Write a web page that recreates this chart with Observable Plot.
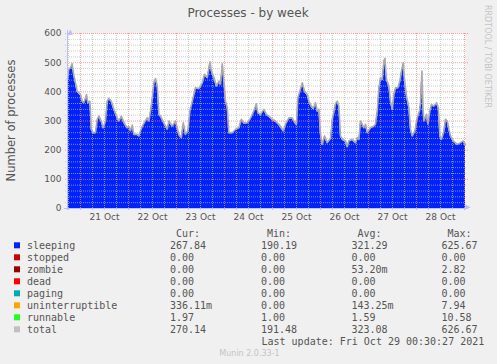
<!DOCTYPE html>
<html><head><meta charset="utf-8">
<script src="https://cdn.jsdelivr.net/npm/d3@7"></script>
<script src="https://cdn.jsdelivr.net/npm/@observablehq/plot@0.6"></script>
<style>
html,body{margin:0;padding:0;background:#f0f0f0;}
#wrap{position:relative;width:497px;height:364px;background:#f0f0f0;overflow:hidden;}
#wrap > svg{position:absolute;left:0;top:0;}
</style></head><body><div id="wrap"></div>
<script>
// hours after 21 Oct 2021 00:00
const hours = [-6.5,-5.9,-5,-4.2,-3.4,-2.5,-1.7,0,0.9,1.7,2.5,3,3.7,4.7,5.4,6.4,7.5,8.4,9.2,10.4,11.4,12.5,13.4,14.2,15.4,16.7,18.4,19.2,20.4,21.4,22.5,23.4,24.2,25,25.9,26.7,28.4,29.2,30,31.4,33.4,34.2,35,35.9,36.7,37.5,38.4,39.2,40,41.7,43.4,44.2,45.9,47.5,49.2,50.4,51.4,52.5,53.7,54.7,55.9,57.5,59.2,60.9,62,63.4,64.7,65.5,66.7,68,69.2,70,70.9,71.7,72.5,73.4,74.2,75.9,77.5,79.2,80.4,81.7,83.4,84.7,85.9,87,87.9,88.7,90,91.7,93,94.2,95.9,97.5,99.2,100.4,101.4,102.5,104.2,105.9,106.7,108,108.7,109.7,110.9,112,113.4,114.2,115.4,116.4,117.5,118.4,119.2,120,120.9,122,123.4,125,125.9,126.7,127.5,128.4,129.2,130,131,132.5,133.4,134.2,135.9,137.5,138.4,139.2,140,140.9,141.7,142.5,143.4,145,146.7,147.5,148.4,149.2,150,150.9,151.7,152.2,153,154.2,155,155.9,156.7,157.5,158.7,159.7,160.5,161.4,162,163,164.2,165,165.9,167.2,168.4,169.5,170,170.7,171.3,171.7,173,173.7,174.7,175.5,176.7,178,178.9,179.7,180.5,181.7,182.5,183.4,184.2,185,186.4,188.4,190,191.4,192.5];
const total = [443,477,483,496,460,431,403,391,368,363,380,391,362,368,272,260,260,306,317,300,277,300,368,378,368,340,311,300,317,300,286,277,281,267,286,254,254,249,267,289,311,300,334,379,431,446,420,323,317,294,272,300,283,300,254,243,294,254,266,334,368,414,411,431,460,449,503,471,449,420,437,426,496,437,368,346,260,260,272,277,306,294,294,306,323,340,359,329,323,340,323,317,306,300,289,277,266,289,311,311,300,289,380,403,431,403,391,368,351,343,363,334,340,255,220,249,226,240,306,330,360,368,351,249,237,232,212,232,237,226,243,237,300,289,277,289,260,277,283,289,334,414,449,443,506,515,443,420,368,340,391,414,414,437,471,500,443,386,346,272,249,266,311,334,360,471,340,300,323,289,334,357,351,363,346,249,237,266,306,300,272,249,232,220,226,232,218];
const sleeping = [439,473,479,492,456,427,399,387,364,359,376,387,358,364,268,256,256,302,313,296,273,296,364,374,364,336,307,296,313,296,282,273,277,263,282,250,250,245,263,285,307,296,330,375,427,442,416,319,313,290,268,296,279,296,250,239,290,250,262,330,364,410,407,427,456,445,499,467,445,416,433,422,492,433,364,342,256,256,268,273,302,290,290,302,319,336,355,325,319,336,319,313,302,296,285,273,262,285,307,307,296,285,376,399,427,399,387,364,347,339,359,330,336,251,216,245,222,236,302,326,356,364,347,245,233,228,208,228,233,222,239,233,296,285,273,285,256,273,279,285,330,410,445,439,502,511,439,416,364,336,387,410,410,433,467,496,439,382,342,268,245,262,307,330,356,467,336,296,319,285,330,353,347,359,342,245,233,262,302,296,268,245,228,216,222,228,214];

const seriesNames = ["sleeping","stopped","zombie","dead","paging","uninterruptible","runnable","total"];
const seriesColors = ["#0022ff","#cc0000","#990000","#ff0000","#00aaaa","#ffa500","#22ff22","#c0c0c0"];
const curVals = ["267.84","0.00","0.00","0.00","0.00","336.11m","1.97","270.14"];
const minVals = ["190.19","0.00","0.00","0.00","0.00","0.00","1.00","191.48"];
const avgVals = ["321.29","0.00","53.20m","0.00","0.00","143.25m","1.59","323.08"];
const maxVals = ["625.67","0.00","2.82","0.00","0.00","7.94","10.58","626.67"];
const columnHeads = ["Cur:","Min:","Avg:","Max:"];
const yTicks = [0,100,200,300,400,500,600];
const titleText = "Processes - by week";
const yLabel = "Number of processes";
const lastUpdate = "Last update: Fri Oct 29 00:30:27 2021";
const sideText = "RRDTOOL / TOBI OETIKER";
const footer = "Munin 2.0.33-1";

const H = 3600e3;
const t0 = Date.UTC(2021, 9, 21, 0, 0);
const data = hours.map((h, i) => ({t: new Date(t0 + h * H), total: total[i], sleeping: sleeping[i]}));
const xDomain = [new Date(t0 - 6.5 * H), new Date(t0 + 192.5 * H)];
const minorX = d3.range(-6, 193, 6).filter(h => h % 24 !== 0).map(h => new Date(t0 + h * H));
const majorX = d3.range(0, 193, 24).map(h => new Date(t0 + h * H));
const noonTicks = d3.range(12, 190, 24).map(h => new Date(t0 + h * H));
const minorY = d3.range(20, 601, 20).filter(v => v % 100 !== 0);
const majorY = d3.range(100, 601, 100);

const axisColor = "#b8c0f8";
const chart = Plot.plot({
  width: 497, height: 232,
  marginLeft: 67, marginRight: 32, marginTop: 33, marginBottom: 24,
  style: {background: "transparent", fontFamily: "DejaVu Sans", fontSize: "9px", color: "#555"},
  x: {type: "utc", domain: xDomain},
  y: {domain: [0, 600]},
  marks: [
    Plot.frame({fill: "white", stroke: "none"}),
    Plot.areaY(data, {x: "t", y: "sleeping", fill: "#0022ff"}),
    Plot.line(data, {x: "t", y: "total", stroke: "#a8aaaa", strokeWidth: 1.6}),
    Plot.ruleY(minorY, {stroke: "#bababa", strokeOpacity: 0.7, strokeDasharray: "1,1", insetLeft: -2, insetRight: -2}),
    Plot.ruleX(minorX, {stroke: "#bababa", strokeOpacity: 0.7, strokeDasharray: "1,1", insetBottom: -2}),
    Plot.ruleY(majorY, {stroke: "#ff7f7f", strokeOpacity: 0.75, strokeDasharray: "1,1", insetLeft: -2, insetRight: -3}),
    Plot.ruleX(majorX, {stroke: "#ff7f7f", strokeOpacity: 0.75, strokeDasharray: "1,1", insetBottom: -3}),
    Plot.ruleX([xDomain[0]], {stroke: axisColor, insetTop: -3, insetBottom: -2}),
    Plot.ruleY([0], {stroke: axisColor, insetLeft: -3, insetRight: -3}),
    Plot.text(["▲"], {frameAnchor: "top-left", dy: -4, fill: axisColor, fontSize: 7}),
    Plot.text(["▶"], {frameAnchor: "bottom-right", dx: 5, fill: axisColor, fontSize: 7}),
    Plot.axisY({ticks: yTicks, tickSize: 0, tickPadding: 6, label: null}),
    Plot.axisX({ticks: noonTicks, tickFormat: d3.utcFormat("%-d %b"), tickSize: 0, tickPadding: 5.5, label: null})
  ]
});
const wrap = document.getElementById("wrap");
wrap.appendChild(chart);

// overlay: title, axis label, legend
const svg = d3.select(wrap).append("svg").attr("width", 497).attr("height", 364)
  .style("pointer-events", "none").attr("font-family", "DejaVu Sans");
svg.append("text").attr("x", 248).attr("y", 17).attr("text-anchor", "middle")
  .attr("font-size", 12).attr("fill", "#555").text(titleText);
svg.append("text").attr("transform", "translate(15,120.5) rotate(-90)").attr("text-anchor", "middle")
  .attr("font-size", 11.5).attr("fill", "#555").text(yLabel);
svg.append("text").attr("transform", "translate(485,5) rotate(90)").attr("text-anchor", "start")
  .attr("font-size", 8).attr("fill", "#c4c4c4").text(sideText);
svg.append("text").attr("x", 249.5).attr("y", 356).attr("text-anchor", "middle")
  .attr("font-size", 8).attr("fill", "#c4c4c4").text(footer);

const mono = svg.append("g").attr("font-family", "DejaVu Sans Mono").attr("font-size", 10)
  .attr("fill", "#555").attr("xml:space", "preserve").style("white-space", "pre");
const colX = [170, 261, 351.5, 441.5];
const fmt = s => (s.endsWith("m") ? s : s + " ").padStart(7, " ");
columnHeads.forEach((h, j) => mono.append("text").attr("x", colX[j] + 6).attr("y", 237).text(h));
const cols = [curVals, minVals, avgVals, maxVals];
seriesNames.forEach((name, i) => {
  const yb = 249.3 + i * 12;
  svg.append("rect").attr("x", 14).attr("y", yb - 7).attr("width", 6).attr("height", 6).attr("fill", seriesColors[i]);
  mono.append("text").attr("x", 27).attr("y", yb).text(name);
  cols.forEach((c, j) => mono.append("text").attr("x", colX[j]).attr("y", yb).text(fmt(c[i])));
});
mono.append("text").attr("x", 261.5).attr("y", 345.3).text(lastUpdate);
</script></body></html>
